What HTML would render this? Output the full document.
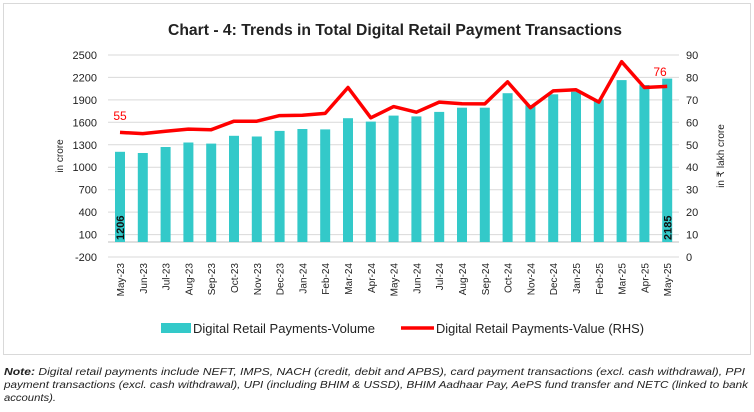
<!DOCTYPE html>
<html><head><meta charset="utf-8"><style>
body{margin:0;background:#fff;width:754px;height:407px;overflow:hidden;font-family:"Liberation Sans",sans-serif}
</style></head><body>
<svg width="754" height="407" xmlns="http://www.w3.org/2000/svg" font-family="Liberation Sans, sans-serif">
<rect x="3.5" y="3.5" width="747" height="351" fill="none" stroke="#d9d9d9"/>
<text x="168" y="35" textLength="454" lengthAdjust="spacingAndGlyphs" font-size="15.5" font-weight="bold" fill="#222">Chart - 4: Trends in Total Digital Retail Payment Transactions</text>
<g stroke="#d9d9d9" stroke-width="1">
<line x1="108" y1="55" x2="679" y2="55"/><line x1="108" y1="77.4" x2="679" y2="77.4"/><line x1="108" y1="99.9" x2="679" y2="99.9"/><line x1="108" y1="122.3" x2="679" y2="122.3"/><line x1="108" y1="144.8" x2="679" y2="144.8"/><line x1="108" y1="167.2" x2="679" y2="167.2"/><line x1="108" y1="189.7" x2="679" y2="189.7"/><line x1="108" y1="212.1" x2="679" y2="212.1"/><line x1="108" y1="234.6" x2="679" y2="234.6"/><line x1="108" y1="257" x2="679" y2="257"/>
</g>
<line x1="108" y1="242" x2="679" y2="242" stroke="#bfbfbf"/>
<g font-size="11" fill="#222" text-anchor="end">
<text x="97" y="59">2500</text><text x="97" y="81.4">2200</text><text x="97" y="103.9">1900</text><text x="97" y="126.3">1600</text><text x="97" y="148.8">1300</text><text x="97" y="171.2">1000</text><text x="97" y="193.7">700</text><text x="97" y="216.1">400</text><text x="97" y="238.6">100</text><text x="97" y="261">-200</text>
</g>
<g font-size="11" fill="#222" text-anchor="start">
<text x="686" y="59">90</text><text x="686" y="81.4">80</text><text x="686" y="103.9">70</text><text x="686" y="126.3">60</text><text x="686" y="148.8">50</text><text x="686" y="171.2">40</text><text x="686" y="193.7">30</text><text x="686" y="216.1">20</text><text x="686" y="238.6">10</text><text x="686" y="261">0</text>
</g>
<text transform="translate(63,156) rotate(-90)" text-anchor="middle" font-size="10" fill="#222">in crore</text>
<text transform="translate(724,156) rotate(-90)" text-anchor="middle" font-size="10" fill="#222">in ₹ lakh crore</text>
<g fill="#33c9c9">
<rect x="115" y="151.8" width="10" height="90.2"/><rect x="137.8" y="153" width="10" height="89"/><rect x="160.6" y="147" width="10" height="95"/><rect x="183.4" y="142.5" width="10" height="99.5"/><rect x="206.2" y="143.6" width="10" height="98.4"/><rect x="229" y="135.8" width="10" height="106.2"/><rect x="251.8" y="136.5" width="10" height="105.5"/><rect x="274.6" y="130.9" width="10" height="111.1"/><rect x="297.4" y="129" width="10" height="113"/><rect x="320.2" y="129.4" width="10" height="112.6"/><rect x="343" y="118.2" width="10" height="123.8"/><rect x="365.8" y="121.6" width="10" height="120.4"/><rect x="388.6" y="115.6" width="10" height="126.4"/><rect x="411.4" y="116.4" width="10" height="125.6"/><rect x="434.2" y="111.9" width="10" height="130.1"/><rect x="457" y="107.7" width="10" height="134.3"/><rect x="479.8" y="107.7" width="10" height="134.3"/><rect x="502.6" y="93.2" width="10" height="148.8"/><rect x="525.4" y="105.1" width="10" height="136.9"/><rect x="548.2" y="94.3" width="10" height="147.7"/><rect x="571" y="91.7" width="10" height="150.3"/><rect x="593.8" y="99.5" width="10" height="142.5"/><rect x="616.6" y="80.1" width="10" height="161.9"/><rect x="639.4" y="85" width="10" height="157"/><rect x="662.2" y="78.6" width="10" height="163.4"/>
</g>
<text transform="translate(124,240) rotate(-90)" font-size="11" font-weight="bold" fill="#111">1206</text>
<text transform="translate(671.5,240) rotate(-90)" font-size="11" font-weight="bold" fill="#111">2185</text>
<polyline fill="none" stroke="#f00" stroke-width="3.5" stroke-linejoin="round" points="120,132.4 142.8,133.6 165.6,131.3 188.4,129.1 211.2,129.7 234,121.2 256.8,121.2 279.6,115.6 302.4,115.2 325.2,113.4 348,87.5 370.8,117.8 393.6,106.6 416.4,112.2 439.2,102.1 462,103.7 484.8,103.9 507.6,81.9 530.4,107.7 553.2,90.9 576,89.8 598.8,102.1 621.6,61.7 644.4,87.5 667.2,86.4"/>
<text x="120" y="120" text-anchor="middle" font-size="12" fill="#f00">55</text>
<text x="660" y="76" text-anchor="middle" font-size="12" fill="#f00">76</text>
<g font-size="10" fill="#222" text-anchor="end">
<text transform="translate(124,263) rotate(-90)">May-23</text><text transform="translate(146.8,263) rotate(-90)">Jun-23</text><text transform="translate(169.6,263) rotate(-90)">Jul-23</text><text transform="translate(192.4,263) rotate(-90)">Aug-23</text><text transform="translate(215.2,263) rotate(-90)">Sep-23</text><text transform="translate(238,263) rotate(-90)">Oct-23</text><text transform="translate(260.8,263) rotate(-90)">Nov-23</text><text transform="translate(283.6,263) rotate(-90)">Dec-23</text><text transform="translate(306.4,263) rotate(-90)">Jan-24</text><text transform="translate(329.2,263) rotate(-90)">Feb-24</text><text transform="translate(352,263) rotate(-90)">Mar-24</text><text transform="translate(374.8,263) rotate(-90)">Apr-24</text><text transform="translate(397.6,263) rotate(-90)">May-24</text><text transform="translate(420.4,263) rotate(-90)">Jun-24</text><text transform="translate(443.2,263) rotate(-90)">Jul-24</text><text transform="translate(466,263) rotate(-90)">Aug-24</text><text transform="translate(488.8,263) rotate(-90)">Sep-24</text><text transform="translate(511.6,263) rotate(-90)">Oct-24</text><text transform="translate(534.4,263) rotate(-90)">Nov-24</text><text transform="translate(557.2,263) rotate(-90)">Dec-24</text><text transform="translate(580,263) rotate(-90)">Jan-25</text><text transform="translate(602.8,263) rotate(-90)">Feb-25</text><text transform="translate(625.6,263) rotate(-90)">Mar-25</text><text transform="translate(648.4,263) rotate(-90)">Apr-25</text><text transform="translate(671.2,263) rotate(-90)">May-25</text>
</g>
<rect x="161" y="323" width="30" height="10" fill="#33c9c9"/>
<text x="193" y="333" textLength="182" lengthAdjust="spacingAndGlyphs" font-size="12.5" fill="#222">Digital Retail Payments-Volume</text>
<line x1="401" y1="328" x2="434" y2="328" stroke="#f00" stroke-width="3.5"/>
<text x="436" y="333" textLength="208" lengthAdjust="spacingAndGlyphs" font-size="12.5" fill="#222">Digital Retail Payments-Value (RHS)</text>
<g font-size="10" font-style="italic" fill="#222">
<text x="4" y="375" textLength="741" lengthAdjust="spacingAndGlyphs"><tspan font-weight="bold">Note:</tspan> Digital retail payments include NEFT, IMPS, NACH (credit, debit and APBS), card payment transactions (excl. cash withdrawal), PPI</text>
<text x="4" y="388" textLength="744" lengthAdjust="spacingAndGlyphs">payment transactions (excl. cash withdrawal), UPI (including BHIM &amp; USSD), BHIM Aadhaar Pay, AePS fund transfer and NETC (linked to bank</text>
<text x="4" y="401" textLength="52" lengthAdjust="spacingAndGlyphs">accounts).</text>
</g>
</svg>
</body></html>
